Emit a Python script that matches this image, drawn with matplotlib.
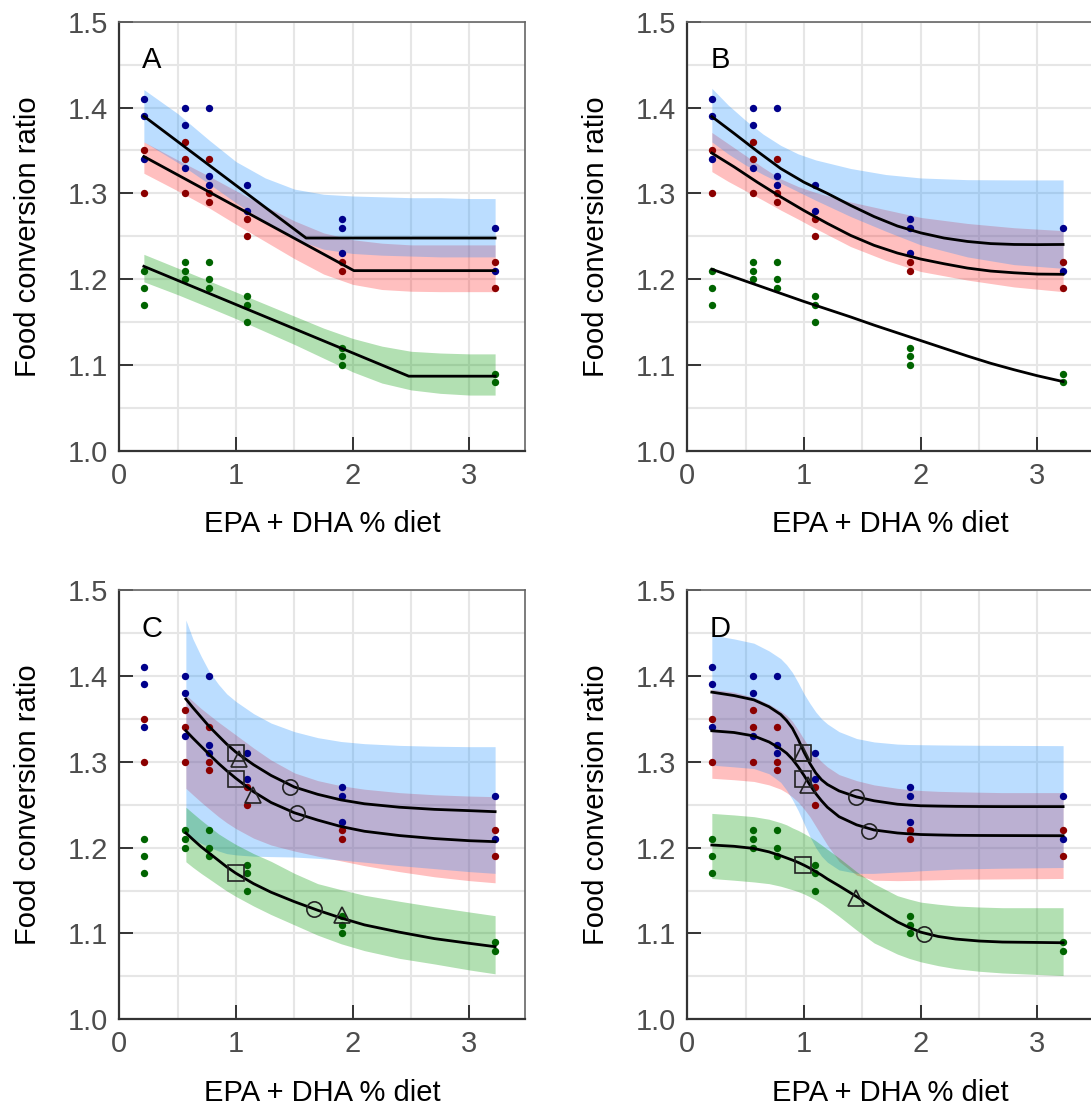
import matplotlib
matplotlib.use('Agg')
import matplotlib.pyplot as plt
from matplotlib.ticker import MultipleLocator

plt.rcParams['font.family'] = ['Liberation Sans', 'DejaVu Sans']

# measured data (same in every panel)
blue_x = [0.214, 0.214, 0.214, 0.566, 0.566, 0.566, 0.771, 0.771, 0.771, 1.091, 1.091, 1.909, 1.909, 1.909, 3.22, 3.22]
blue_y = [1.41, 1.39, 1.34, 1.40, 1.38, 1.33, 1.40, 1.32, 1.31, 1.31, 1.28, 1.27, 1.26, 1.23, 1.26, 1.21]
red_x = [0.214, 0.214, 0.566, 0.566, 0.566, 0.771, 0.771, 0.771, 1.091, 1.091, 1.909, 1.909, 3.22, 3.22]
red_y = [1.35, 1.30, 1.36, 1.34, 1.30, 1.34, 1.30, 1.29, 1.27, 1.25, 1.22, 1.21, 1.22, 1.19]
green_x = [0.214, 0.214, 0.214, 0.566, 0.566, 0.566, 0.771, 0.771, 0.771, 1.091, 1.091, 1.091, 1.909, 1.909, 1.909, 3.22, 3.22]
green_y = [1.21, 1.19, 1.17, 1.22, 1.21, 1.20, 1.22, 1.20, 1.19, 1.18, 1.17, 1.15, 1.12, 1.11, 1.10, 1.09, 1.08]

# panel A: broken-line fits
a_blue_fit_x = [0.21, 1.60, 3.22]
a_blue_fit = [1.390, 1.248, 1.248]
a_red_fit_x = [0.21, 2.01, 3.22]
a_red_fit = [1.343, 1.210, 1.210]
a_green_fit_x = [0.21, 2.48, 3.22]
a_green_fit = [1.215, 1.087, 1.087]
a_band_x = [0.21, 0.5, 0.77, 1.0, 1.25, 1.5, 1.75, 2.0, 2.25, 2.5, 2.75, 3.0, 3.22]
a_blue_hi = [1.421, 1.393, 1.362, 1.337, 1.318, 1.305, 1.299, 1.297, 1.296, 1.295, 1.295, 1.294, 1.294]
a_blue_lo = [1.360, 1.336, 1.311, 1.289, 1.267, 1.247, 1.235, 1.230, 1.228, 1.227, 1.226, 1.226, 1.226]
a_red_hi = [1.360, 1.339, 1.320, 1.303, 1.285, 1.268, 1.254, 1.246, 1.242, 1.240, 1.240, 1.240, 1.240]
a_red_lo = [1.3235, 1.303, 1.283, 1.264, 1.244, 1.224, 1.206, 1.194, 1.188, 1.186, 1.1855, 1.1855, 1.1855]
a_green_hi = [1.229, 1.213, 1.198, 1.185, 1.171, 1.157, 1.143, 1.131, 1.122, 1.116, 1.114, 1.113, 1.113]
a_green_lo = [1.197, 1.182, 1.167, 1.154, 1.139, 1.124, 1.108, 1.092, 1.079, 1.071, 1.067, 1.065, 1.065]

# panel B: curved fits, no band for green
b_fit_x = [0.21, 0.4, 0.6, 0.8, 1.0, 1.2, 1.4, 1.6, 1.8, 2.0, 2.2, 2.4, 2.6, 2.8, 3.0, 3.22]
b_blue_fit = [1.3895, 1.370, 1.349, 1.329, 1.313, 1.300, 1.286, 1.273, 1.262, 1.254, 1.248, 1.244, 1.2415, 1.2405, 1.2403, 1.2405]
b_red_fit = [1.347, 1.331, 1.313, 1.296, 1.280, 1.265, 1.251, 1.2395, 1.2305, 1.2235, 1.218, 1.213, 1.2095, 1.2075, 1.206, 1.2057]
b_green_fit = [1.2116, 1.2025, 1.193, 1.1835, 1.174, 1.165, 1.156, 1.1465, 1.1375, 1.1285, 1.1195, 1.1105, 1.102, 1.0945, 1.0875, 1.0807]
b_band_x = [0.21, 0.35, 0.5, 0.65, 0.8, 0.95, 1.1, 1.4, 1.7, 2.0, 2.4, 2.8, 3.22]
b_blue_hi = [1.4225, 1.403, 1.385, 1.369, 1.356, 1.346, 1.339, 1.329, 1.322, 1.318, 1.316, 1.3157, 1.3157]
b_blue_lo = [1.360, 1.346, 1.333, 1.322, 1.312, 1.302, 1.292, 1.273, 1.256, 1.240, 1.226, 1.217, 1.2127]
b_red_hi = [1.371, 1.358, 1.344, 1.330, 1.317, 1.308, 1.301, 1.290, 1.281, 1.272, 1.265, 1.260, 1.2566]
b_red_lo = [1.3254, 1.314, 1.303, 1.292, 1.2806, 1.270, 1.259, 1.238, 1.222, 1.209, 1.199, 1.191, 1.1855]

# panel C: fits start at the second diet
c_x = [0.57, 0.63, 0.7, 0.77, 0.85, 0.92, 1.0, 1.15, 1.3, 1.5, 1.7, 1.9, 2.1, 2.4, 2.7, 3.0, 3.22]
c_blue_fit = [1.373, 1.363, 1.352, 1.341, 1.330, 1.3205, 1.311, 1.2965, 1.284, 1.2705, 1.262, 1.2555, 1.251, 1.247, 1.2445, 1.243, 1.2418]
c_red_fit = [1.336, 1.3275, 1.318, 1.3085, 1.298, 1.2895, 1.2805, 1.265, 1.2525, 1.2405, 1.232, 1.2245, 1.219, 1.214, 1.2105, 1.208, 1.2069]
c_green_fit = [1.217, 1.2095, 1.201, 1.1935, 1.185, 1.1775, 1.170, 1.158, 1.148, 1.137, 1.127, 1.118, 1.110, 1.1015, 1.094, 1.0885, 1.0846]
c_blue_hi = [1.465, 1.443, 1.423, 1.405, 1.390, 1.379, 1.370, 1.356, 1.345, 1.335, 1.328, 1.3235, 1.321, 1.319, 1.318, 1.3175, 1.3175]
c_blue_lo = [1.216, 1.2105, 1.205, 1.2005, 1.196, 1.193, 1.1915, 1.190, 1.1895, 1.189, 1.1875, 1.1855, 1.183, 1.179, 1.1755, 1.172, 1.170]
c_red_hi = [1.378, 1.3705, 1.362, 1.3545, 1.346, 1.339, 1.331, 1.316, 1.302, 1.287, 1.278, 1.272, 1.268, 1.264, 1.2615, 1.260, 1.2593]
c_red_lo = [1.269, 1.2615, 1.253, 1.245, 1.236, 1.229, 1.222, 1.211, 1.203, 1.196, 1.190, 1.1845, 1.179, 1.172, 1.166, 1.1615, 1.159]
c_green_hi = [1.247, 1.240, 1.232, 1.2245, 1.216, 1.210, 1.2035, 1.193, 1.184, 1.170, 1.158, 1.151, 1.1445, 1.1375, 1.131, 1.125, 1.1207]
c_green_lo = [1.1835, 1.177, 1.170, 1.1635, 1.156, 1.1495, 1.143, 1.132, 1.122, 1.110, 1.098, 1.088, 1.080, 1.071, 1.0645, 1.0575, 1.053]
c_sq_x = [1.00, 1.00, 1.00]
c_sq_y = [1.310, 1.2795, 1.170]
c_tri_x = [1.025, 1.149, 1.911]
c_tri_y = [1.303, 1.261, 1.122]
c_circ_x = [1.466, 1.523, 1.666]
c_circ_y = [1.270, 1.240, 1.129]

# panel D: sigmoid fits
d_x = [0.21, 0.4, 0.57, 0.7, 0.8, 0.85, 0.9, 0.95, 1.0, 1.05, 1.1, 1.15, 1.2, 1.3, 1.45, 1.6, 1.8, 1.9, 2.0, 2.15, 2.3, 2.5, 2.7, 3.22]
d_blue_fit = [1.381, 1.377, 1.372, 1.364, 1.355, 1.348, 1.339, 1.326, 1.311, 1.298, 1.287, 1.279, 1.2735, 1.266, 1.259, 1.2545, 1.2505, 1.2495, 1.2487, 1.2483, 1.248, 1.2478, 1.2477, 1.2477]
d_red_fit = [1.336, 1.334, 1.330, 1.323, 1.315, 1.310, 1.303, 1.294, 1.284, 1.273, 1.263, 1.2545, 1.247, 1.236, 1.2265, 1.2205, 1.217, 1.216, 1.2152, 1.2147, 1.2143, 1.2141, 1.214, 1.2138]
d_green_fit = [1.203, 1.2015, 1.199, 1.195, 1.1905, 1.188, 1.1855, 1.1827, 1.1795, 1.176, 1.172, 1.168, 1.1635, 1.1555, 1.143, 1.130, 1.1135, 1.107, 1.1015, 1.0965, 1.0935, 1.0912, 1.0900, 1.0892]
d_blue_hi = [1.4475, 1.443, 1.438, 1.429, 1.420, 1.413, 1.404, 1.392, 1.379, 1.368, 1.358, 1.350, 1.344, 1.335, 1.327, 1.323, 1.3205, 1.320, 1.3198, 1.3195, 1.3193, 1.3191, 1.319, 1.3187]
d_blue_lo = [1.296, 1.294, 1.292, 1.286, 1.276, 1.267, 1.256, 1.243, 1.228, 1.213, 1.200, 1.190, 1.183, 1.174, 1.170, 1.170, 1.1715, 1.172, 1.173, 1.174, 1.175, 1.1755, 1.176, 1.1768]
d_red_hi = [1.3843, 1.381, 1.375, 1.367, 1.359, 1.354, 1.347, 1.337, 1.326, 1.316, 1.307, 1.300, 1.294, 1.285, 1.278, 1.273, 1.269, 1.2675, 1.2665, 1.2655, 1.265, 1.2645, 1.264, 1.264]
d_red_lo = [1.2807, 1.279, 1.277, 1.273, 1.268, 1.264, 1.259, 1.253, 1.245, 1.236, 1.225, 1.214, 1.203, 1.184, 1.168, 1.162, 1.1615, 1.1617, 1.162, 1.1625, 1.163, 1.1633, 1.1635, 1.164]
d_green_hi = [1.2398, 1.238, 1.236, 1.233, 1.229, 1.2265, 1.223, 1.220, 1.2164, 1.2125, 1.208, 1.203, 1.198, 1.188, 1.172, 1.158, 1.144, 1.140, 1.1365, 1.134, 1.132, 1.1308, 1.130, 1.130]
d_green_lo = [1.164, 1.162, 1.160, 1.158, 1.155, 1.153, 1.151, 1.1487, 1.146, 1.1427, 1.139, 1.1347, 1.130, 1.120, 1.104, 1.089, 1.076, 1.071, 1.067, 1.0625, 1.059, 1.056, 1.054, 1.051]
d_sq_x = [0.994, 0.994, 0.994]
d_sq_y = [1.310, 1.280, 1.180]
d_tri_x = [0.985, 1.037, 1.443]
d_tri_y = [1.310, 1.273, 1.141]
d_circ_x = [1.443, 1.554, 2.031]
d_circ_y = [1.259, 1.2197, 1.0993]

BLUE_BAND = (30/255, 144/255, 1.0, 0.3)
RED_BAND = (1.0, 0.0, 0.0, 0.25)
GREEN_BAND = (0.0, 0.6, 0.0, 0.3)


def setup_axes(ax, letter):
    ax.set_xlim(0, 3.476)
    ax.set_ylim(1.0, 1.5)
    ax.xaxis.set_major_locator(MultipleLocator(1))
    ax.xaxis.set_minor_locator(MultipleLocator(0.5))
    ax.yaxis.set_major_locator(MultipleLocator(0.1))
    ax.yaxis.set_minor_locator(MultipleLocator(0.05))
    ax.yaxis.set_major_formatter(plt.FormatStrFormatter('%.1f'))
    ax.grid(True, which='both', color='#E6E6E6', lw=1.5, zorder=0)
    ax.set_axisbelow(True)
    ax.tick_params(which='major', direction='in', length=10, width=1.4, color='#333333',
                   labelsize=21, labelcolor='#4D4D4D', pad=8)
    ax.tick_params(which='minor', length=0)
    for s in ['left', 'bottom']:
        ax.spines[s].set_color('#333333')
        ax.spines[s].set_linewidth(1.6)
    for s in ['top', 'right']:
        ax.spines[s].set_color('#666666')
        ax.spines[s].set_linewidth(1.2)
    ax.set_xlabel('EPA + DHA % diet', fontsize=21)
    ax.set_ylabel('Food conversion ratio', fontsize=21)
    ax.xaxis.set_label_coords(0.5, -0.138)
    ax.yaxis.set_label_coords(-0.19, 0.5)
    ax.text(0.28, 1.455, letter, fontsize=21, ha='center', va='center')


def draw_points(ax):
    ax.scatter(blue_x, blue_y, s=28, color='#00008B', zorder=3, linewidths=0)
    ax.scatter(red_x, red_y, s=28, color='#8B0000', zorder=3, linewidths=0)
    ax.scatter(green_x, green_y, s=28, color='#006400', zorder=3, linewidths=0)


def draw_markers(ax, sq_x, sq_y, tri_x, tri_y, circ_x, circ_y):
    kw = dict(ls='none', mfc='none', mec='#222222', ms=11, mew=1.2, zorder=5)
    ax.plot(sq_x, sq_y, marker='s', **kw)
    ax.plot(tri_x, tri_y, marker='^', **kw)
    ax.plot(circ_x, circ_y, marker='o', **kw)


fig = plt.figure(figsize=(10.91, 11.11), dpi=100)
axA = fig.add_axes([0.1094, 0.5942, 0.3718, 0.3862])
axB = fig.add_axes([0.6300, 0.5942, 0.3718, 0.3862])
axC = fig.add_axes([0.1094, 0.0825, 0.3718, 0.3865])
axD = fig.add_axes([0.6300, 0.0825, 0.3718, 0.3865])

# A
ax = axA
ax.fill_between(a_band_x, a_red_lo, a_red_hi, color=RED_BAND, lw=0, zorder=1)
ax.fill_between(a_band_x, a_blue_lo, a_blue_hi, color=BLUE_BAND, lw=0, zorder=1)
ax.fill_between(a_band_x, a_green_lo, a_green_hi, color=GREEN_BAND, lw=0, zorder=1)
draw_points(ax)
ax.plot(a_blue_fit_x, a_blue_fit, color='black', lw=2, zorder=4)
ax.plot(a_red_fit_x, a_red_fit, color='black', lw=2, zorder=4)
ax.plot(a_green_fit_x, a_green_fit, color='black', lw=2, zorder=4)
setup_axes(ax, 'A')

# B
ax = axB
ax.fill_between(b_band_x, b_red_lo, b_red_hi, color=RED_BAND, lw=0, zorder=1)
ax.fill_between(b_band_x, b_blue_lo, b_blue_hi, color=BLUE_BAND, lw=0, zorder=1)
draw_points(ax)
ax.plot(b_fit_x, b_blue_fit, color='black', lw=2, zorder=4)
ax.plot(b_fit_x, b_red_fit, color='black', lw=2, zorder=4)
ax.plot(b_fit_x, b_green_fit, color='black', lw=2, zorder=4)
setup_axes(ax, 'B')

# C
ax = axC
ax.fill_between(c_x, c_red_lo, c_red_hi, color=RED_BAND, lw=0, zorder=1)
ax.fill_between(c_x, c_blue_lo, c_blue_hi, color=BLUE_BAND, lw=0, zorder=1)
ax.fill_between(c_x, c_green_lo, c_green_hi, color=GREEN_BAND, lw=0, zorder=1)
draw_points(ax)
ax.plot(c_x, c_blue_fit, color='black', lw=2, zorder=4)
ax.plot(c_x, c_red_fit, color='black', lw=2, zorder=4)
ax.plot(c_x, c_green_fit, color='black', lw=2, zorder=4)
draw_markers(ax, c_sq_x, c_sq_y, c_tri_x, c_tri_y, c_circ_x, c_circ_y)
setup_axes(ax, 'C')

# D
ax = axD
ax.fill_between(d_x, d_red_lo, d_red_hi, color=RED_BAND, lw=0, zorder=1)
ax.fill_between(d_x, d_blue_lo, d_blue_hi, color=BLUE_BAND, lw=0, zorder=1)
ax.fill_between(d_x, d_green_lo, d_green_hi, color=GREEN_BAND, lw=0, zorder=1)
draw_points(ax)
ax.plot(d_x, d_blue_fit, color='black', lw=2, zorder=4)
ax.plot(d_x, d_red_fit, color='black', lw=2, zorder=4)
ax.plot(d_x, d_green_fit, color='black', lw=2, zorder=4)
draw_markers(ax, d_sq_x, d_sq_y, d_tri_x, d_tri_y, d_circ_x, d_circ_y)
setup_axes(ax, 'D')

fig.savefig('out.png', dpi=100)
